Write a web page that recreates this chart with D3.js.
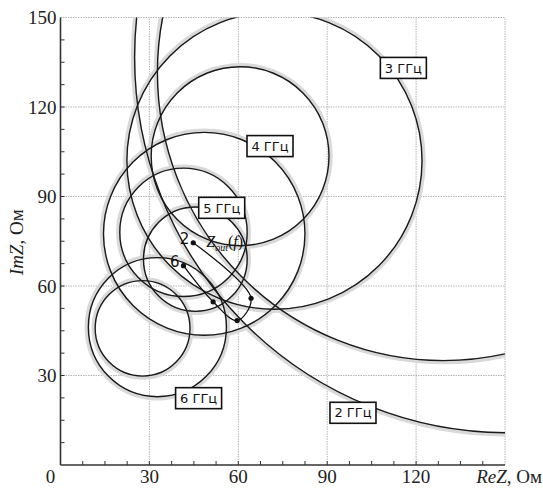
<!DOCTYPE html>
<html>
<head>
<meta charset="utf-8">
<script src="https://cdn.jsdelivr.net/npm/d3@7"></script>
<style>
  body { margin: 0; background: #fff; }
  svg { display: block; }
  .tick-label { font-family: 'Liberation Serif', 'Times New Roman', serif; font-size: 19px; fill: #222; }
  .freq-label { font-family: 'DejaVu Sans', sans-serif; font-size: 13px; fill: #111; }
</style>
</head>
<body>
<svg id="chart"></svg>
<script>
// axis ticks
const xTicks = [0, 30, 60, 90, 120];
const yTicks = [30, 60, 90, 120, 150];
const gridValues = [30, 60, 90, 120, 150];

// circles (centre Re, centre Im, radius, in Ом)
const circleCx = [150.9, 72.2, 129.2, 60.6, 48.5, 41.5, 45.5, 32.7, 27.7];
const circleCy = [136.7, 102.0, 131.5, 103.5, 77.5, 78.0, 69.0, 46.2, 45.8];
const circleR = [125.9, 49.8, 96.5, 30.0, 34.0, 21.5, 17.5, 23.3, 16.0];

// Zout(f) locus, f = 2..6 GHz
const zoutFreq = [2, 3, 4, 5, 6];
const zoutRe = [44.8, 64.3, 59.6, 51.5, 41.5];
const zoutIm = [74.5, 55.9, 48.4, 54.7, 66.8];

// frequency labels
const labelText = ['2 ГГц', '3 ГГц', '4 ГГц', '5 ГГц', '6 ГГц'];
const labelRe = [98.7, 115.7, 70.7, 54.4, 46.6];
const labelIm = [17.5, 133.1, 106.9, 86.2, 22.4];

const config = {
  width: 543,
  height: 488,
  left: 60.5, right: 505, top: 17.5, bottom: 465,
};

const svg = d3.select('#chart')
  .attr('width', config.width)
  .attr('height', config.height);

const x = d3.scaleLinear().domain([0, 150]).range([config.left, config.right]);
const y = d3.scaleLinear().domain([0, 150]).range([config.bottom, config.top]);

svg.append('defs').append('clipPath').attr('id', 'plot-clip')
  .append('rect')
  .attr('x', x(0)).attr('y', y(150))
  .attr('width', x(150) - x(0)).attr('height', y(0) - y(150));

// grid
const grid = svg.append('g');
grid.selectAll('.gx').data(gridValues).join('line')
  .attr('x1', d => x(d)).attr('x2', d => x(d))
  .attr('y1', y(0)).attr('y2', y(150))
  .attr('stroke', '#b5b5b5').attr('stroke-width', 1).attr('stroke-dasharray', '1.5,1');
grid.selectAll('.gy').data(gridValues).join('line')
  .attr('y1', d => y(d)).attr('y2', d => y(d))
  .attr('x1', x(0)).attr('x2', x(150))
  .attr('stroke', '#b5b5b5').attr('stroke-width', 1).attr('stroke-dasharray', '1.5,1');

// curves
const circles = circleCx.map((cx, i) => ({ cx, cy: circleCy[i], r: circleR[i] }));
const plot = svg.append('g').attr('clip-path', 'url(#plot-clip)');

// soft grey halo outside every curve
plot.selectAll('.halo').data(circles).join('ellipse')
  .attr('cx', d => x(d.cx)).attr('cy', d => y(d.cy))
  .attr('rx', d => x(d.cx + d.r) - x(d.cx) + 1.5)
  .attr('ry', d => y(d.cy) - y(d.cy + d.r) + 1.5)
  .attr('fill', 'none').attr('stroke', '#d9d9d9').attr('stroke-width', 4.5);

plot.selectAll('.ring').data(circles).join('ellipse')
  .attr('cx', d => x(d.cx)).attr('cy', d => y(d.cy))
  .attr('rx', d => x(d.cx + d.r) - x(d.cx))
  .attr('ry', d => y(d.cy) - y(d.cy + d.r))
  .attr('fill', 'none').attr('stroke', '#1a1a1a').attr('stroke-width', 1.4);

// Zout(f) locus
const zout = zoutFreq.map((f, i) => ({ f, re: zoutRe[i], im: zoutIm[i] }));
plot.append('path').datum(zout)
  .attr('d', d3.line().x(d => x(d.re)).y(d => y(d.im)).curve(d3.curveCatmullRom.alpha(0.5)))
  .attr('fill', 'none').attr('stroke', '#111').attr('stroke-width', 1.3);
plot.selectAll('.dot').data(zout).join('circle')
  .attr('cx', d => x(d.re)).attr('cy', d => y(d.im)).attr('r', 2.6)
  .attr('fill', '#111');

const first = zout[0], last = zout[zout.length - 1];
svg.append('text').attr('class', 'freq-label')
  .attr('x', x(first.re) - 4).attr('y', y(first.im) + 1)
  .attr('text-anchor', 'end').style('font-size', '15px')
  .text(first.f);
svg.append('text').attr('class', 'freq-label')
  .attr('x', x(last.re) - 4).attr('y', y(last.im) + 1)
  .attr('text-anchor', 'end').style('font-size', '15px')
  .text(last.f);

const zl = svg.append('text')
  .attr('x', x(first.re) + 13).attr('y', y(first.im) + 4)
  .style('font-family', "'Liberation Serif', serif").style('font-size', '16px').attr('fill', '#111');
zl.append('tspan').style('font-style', 'italic').text('Z');
zl.append('tspan').attr('dy', 4).style('font-size', '10px').style('font-style', 'italic').text('out');
zl.append('tspan').attr('dy', -4).text('(');
zl.append('tspan').style('font-style', 'italic').text('f');
zl.append('tspan').text(')');

// frequency label boxes
const labels = labelText.map((t, i) => ({ t, re: labelRe[i], im: labelIm[i] }));
const lg = svg.selectAll('.lbl').data(labels).join('g')
  .attr('transform', d => `translate(${x(d.re)},${y(d.im)})`);
lg.append('rect')
  .attr('x', -23).attr('y', -10.5).attr('width', 46).attr('height', 21)
  .attr('fill', '#fff').attr('stroke', '#111').attr('stroke-width', 1.6);
lg.append('text').attr('class', 'freq-label')
  .attr('text-anchor', 'middle').attr('dy', '0.36em')
  .text(d => d.t);

// axes
const axes = svg.append('g');
axes.append('line')
  .attr('x1', x(0)).attr('x2', x(0)).attr('y1', y(0)).attr('y2', y(150))
  .attr('stroke', '#333').attr('stroke-width', 1.6);
axes.append('line')
  .attr('x1', x(0)).attr('x2', x(150)).attr('y1', y(0)).attr('y2', y(0))
  .attr('stroke', '#333').attr('stroke-width', 1.6);

const minor = d3.range(7.5, 150, 7.5);
axes.selectAll('.mx').data(minor).join('line')
  .attr('x1', d => x(d)).attr('x2', d => x(d))
  .attr('y1', y(0)).attr('y2', y(0) - 4)
  .attr('stroke', '#333').attr('stroke-width', 1);
axes.selectAll('.my').data(minor).join('line')
  .attr('y1', d => y(d)).attr('y2', d => y(d))
  .attr('x1', x(0)).attr('x2', x(0) + 4)
  .attr('stroke', '#333').attr('stroke-width', 1);

axes.selectAll('.xl').data(xTicks).join('text')
  .attr('class', 'tick-label')
  .attr('x', d => d === 0 ? x(d) - 10 : x(d))
  .attr('y', 483)
  .attr('text-anchor', 'middle')
  .text(d => d);

axes.selectAll('.yl').data(yTicks).join('text')
  .attr('class', 'tick-label')
  .attr('x', x(0) - 4)
  .attr('y', d => y(d))
  .attr('dy', '0.35em')
  .attr('text-anchor', 'end')
  .text(d => d);

const xt = axes.append('text').attr('class', 'tick-label')
  .attr('x', 542).attr('y', 483).attr('text-anchor', 'end');
xt.append('tspan').style('font-style', 'italic').text('ReZ');
xt.append('tspan').text(', Ом');

const yt = axes.append('text').attr('class', 'tick-label')
  .attr('transform', `translate(23,${(y(60) + y(90)) / 2 + 1}) rotate(-90)`)
  .attr('text-anchor', 'middle');
yt.append('tspan').style('font-style', 'italic').text('ImZ');
yt.append('tspan').text(', Ом');
</script>
</body>
</html>
